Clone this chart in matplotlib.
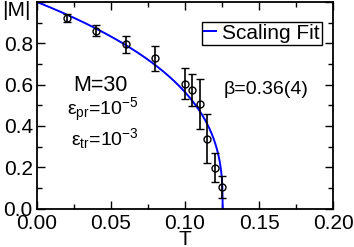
import matplotlib
matplotlib.use('Agg')
import matplotlib.pyplot as plt
import numpy as np

plt.rcParams['font.family'] = ['Liberation Sans', 'DejaVu Sans']
plt.rcParams['mathtext.fontset'] = 'custom'
plt.rcParams['mathtext.rm'] = 'Liberation Sans'
plt.rcParams['mathtext.it'] = 'Liberation Sans:italic'
plt.rcParams['mathtext.bf'] = 'Liberation Sans:bold'
plt.rcParams['mathtext.default'] = 'regular'

# data
T = [0.020, 0.040, 0.060, 0.080, 0.100, 0.105, 0.110, 0.115, 0.120, 0.125]
M = [0.922, 0.860, 0.795, 0.727, 0.603, 0.574, 0.506, 0.338, 0.198, 0.104]
M_err = [0.020, 0.027, 0.040, 0.060, 0.075, 0.077, 0.120, 0.120, 0.070, 0.053]

# scaling fit |M| = A (Tc - T)^beta
beta = 0.36
Tc = 0.1255
A = 1.0 / Tc ** beta

fig = plt.figure(figsize=(3.54, 2.47), dpi=100)
ax = fig.add_axes([37 / 354, 1 - 208.5 / 247, 296 / 354, 206.5 / 247])

t_fit = np.linspace(0, Tc, 400)
ax.plot(t_fit, A * (Tc - t_fit) ** beta, color='#0000ff', lw=1.4, label='Scaling Fit')
ax.errorbar(T, M, yerr=M_err, fmt='o', mfc='none', mec='black', color='black',
            ms=5, mew=1, elinewidth=1.2, capsize=3, capthick=1.2)

ax.set_xlim(0, 0.2)
ax.set_ylim(0, 1.0)
ax.set_xticks([0, 0.05, 0.1, 0.15, 0.2])
ax.set_xticklabels(['0.00', '0.05', '0.10', '0.15', '0.20'])
ax.set_xticks(np.arange(0.025, 0.2, 0.05), minor=True)
ax.set_yticks([0, 0.2, 0.4, 0.6, 0.8, 1.0])
ax.set_yticklabels(['0.0', '0.2', '0.4', '0.6', '0.8', ''])
ax.set_yticks(np.arange(0.1, 1.0, 0.2), minor=True)
ax.tick_params(which='both', direction='in', top=True, right=True, labelsize=15, width=1)
ax.tick_params(which='major', length=6)
ax.tick_params(axis='y', which='major', pad=3)
ax.tick_params(axis='x', which='major', pad=4)
ax.tick_params(which='minor', length=3.5)
for s in ax.spines.values():
    s.set_linewidth(1.3)

# axis labels placed as in the original (x label tucked under the ticks)
fig.text(185 / 354, 2.5 / 247, 'T', fontsize=15, ha='center', va='baseline')
fig.text(2 / 354, 1 - 1 / 247, '|M|', fontsize=15, ha='left', va='top')

kw = dict(ha='center', va='center', fontsize=14)
fig.text(100 / 354, 1 - 85 / 247, 'M=30', fontsize=15.5, ha='center', va='center')
fig.text(103 / 354, 1 - 110 / 247, r'ε$_{pr}$=10$^{-5}$', **kw)
fig.text(105 / 354, 1 - 139 / 247, r'ε$_{tr}$=10$^{-3}$', **kw)
fig.text(266 / 354, 1 - 89 / 247, 'β=0.36(4)', **kw)

leg = ax.legend(loc='upper right', bbox_to_anchor=(0.963, 0.905), borderaxespad=0,
                fontsize=15, handlelength=0.6, handletextpad=0.3, borderpad=0.1,
                fancybox=False, framealpha=1, edgecolor='black')
leg.get_frame().set_linewidth(1)

fig.savefig('out.png', dpi=100)
